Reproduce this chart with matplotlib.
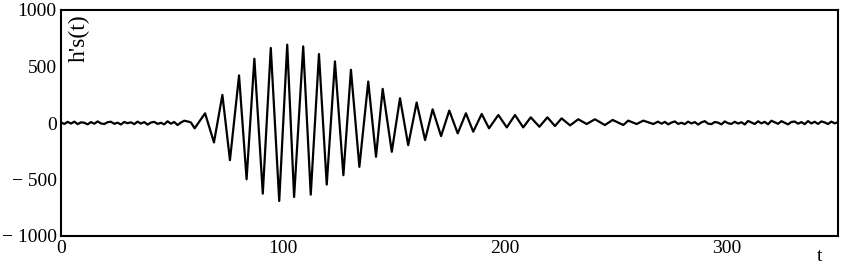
import matplotlib
matplotlib.use("Agg")
import matplotlib.pyplot as plt

# noise before the burst (t from 0, step 1.5)
noise_start = 0.0
noise_step = 1.5
noise_early = [5, -8, 10, -5, 12, -10, 6, 2, -12, 8, -6, 14, -4, -9, 7, 11,
               -7, 3, -13, 9, -2, 6, -10, 12, -5, 8, -14, 4, 10, -8, 2, -12,
               15, -6, 9, -18, 4, 20, 14, 5]

# burst extremes (t, value)
burst_t = [60.2, 64.9, 68.9, 72.7, 76.1, 80.2, 83.6, 87.1, 90.9, 94.5, 98.3,
           101.9, 105.0, 109.1, 112.5, 116.2, 119.7, 123.4, 127.2, 130.6,
           134.4, 138.4, 141.9, 144.9, 149.0, 152.7, 156.4, 160.2, 164.0,
           167.4, 171.2, 174.9, 178.7, 182.4, 185.7, 189.5, 192.8, 197.0,
           200.8, 204.5, 208.2, 211.6, 215.5, 219.1, 222.5, 225.5, 229.3,
           233.0, 236.8, 240.5, 245.0, 248.5, 253.3, 255.5, 259.3, 262.3,
           266.8, 268.9]
burst_v = [-47, 86, -172, 249, -329, 421, -498, 569, -625, 664, -690,
           693, -655, 678, -634, 610, -545, 545, -462, 471,
           -388, 367, -299, 302, -255, 219, -196, 181, -151,
           121, -116, 110, -92, 86, -77, 80, -47, 71,
           -39, 71, -39, 50, -33, 50, -27, 41, -21,
           33, -9, 33, -18, 27, -18, 21, -9, 21,
           -9, 12]

# noise after the burst (t from 270.5, step 1.5)
late_start = 270.5
noise_late = [-6, 10, -12, 4, 14, -8, 2, -10, 12, -4, 8, -14, 6, 16, -6,
              -10, 9, 3, -12, 14, -2, -8, 11, -5, 7, -13, 18, 4, -9, 15,
              -3, 10, -11, 20, 6, -7, 16, 2, -12, 9, 13, -6, 8, -10, 17,
              -4, 11, -8, 14, 5, -9, 12, -3, 8]

t_early = [noise_start + i * noise_step for i in range(len(noise_early))]
t_late = [late_start + i * noise_step for i in range(len(noise_late))]
t = t_early + burst_t + t_late
v = noise_early + burst_v + noise_late

fig = plt.figure(figsize=(8.42, 2.66), dpi=100)
ax = fig.add_axes([61 / 842, 1 - 236 / 266, 777 / 842, 226 / 266])

ax.plot(t, v, color="black", lw=1.6)

ax.set_xlim(0, 350)
ax.set_ylim(-1000, 1000)
ax.set_xticks([0, 100, 200, 300])
ax.set_yticks([-1000, -500, 0, 500, 1000])
ax.set_yticklabels(["\u2212 1000", "\u2212 500", "0", "500", "1000"])

font = {"family": "Liberation Serif", "size": 14}
for lab in ax.get_xticklabels() + ax.get_yticklabels():
    lab.set_fontfamily("Liberation Serif")
    lab.set_fontsize(14)
ax.tick_params(length=0, pad=3)

for s in ax.spines.values():
    s.set_linewidth(1.5)

ax.set_xlabel("t", fontdict=font)
ax.xaxis.set_label_coords((820 - 61) / 777, -0.055)
ax.text(0.023, 0.982, "h's(t)", transform=ax.transAxes, rotation=90,
        ha="center", va="top", family="Liberation Serif", size=17)

fig.savefig("out.png", dpi=100)
